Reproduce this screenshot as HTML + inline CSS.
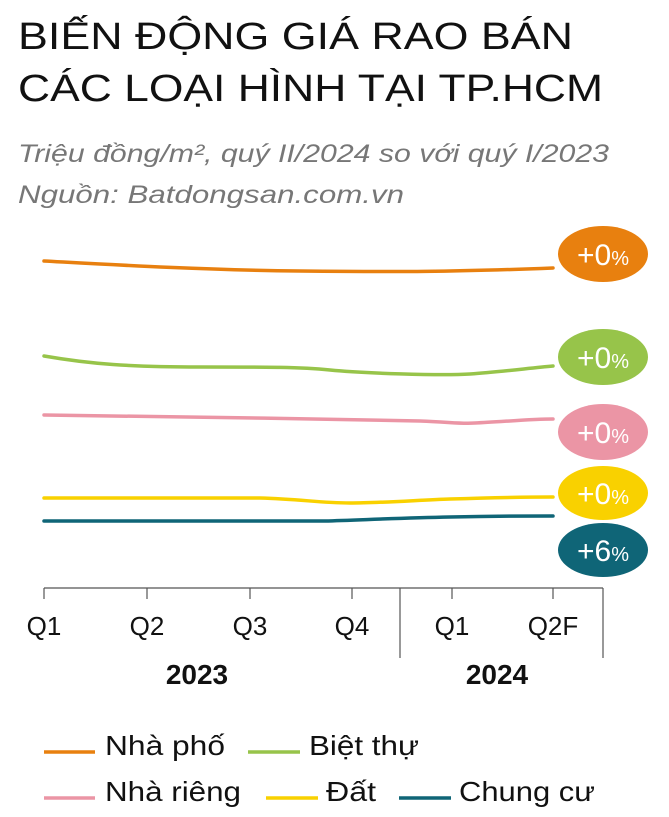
<!DOCTYPE html>
<html><head><meta charset="utf-8"><style>
html,body{margin:0;padding:0;background:#fff;}
svg{display:block;}
text{font-family:"Liberation Sans",sans-serif;}
</style></head><body>
<svg width="669" height="817" viewBox="0 0 669 817" xmlns="http://www.w3.org/2000/svg">
<text x="18" y="49" font-size="38" fill="#111" textLength="555" lengthAdjust="spacingAndGlyphs">BIẾN ĐỘNG GIÁ RAO BÁN</text>
<text x="18" y="101" font-size="38" fill="#111" textLength="585" lengthAdjust="spacingAndGlyphs">CÁC LOẠI HÌNH TẠI TP.HCM</text>
<text x="18" y="162" font-size="25" font-style="italic" fill="#777" textLength="591" lengthAdjust="spacingAndGlyphs">Triệu đồng/m², quý II/2024 so với quý I/2023</text>
<text x="18" y="203" font-size="25" font-style="italic" fill="#777" textLength="386" lengthAdjust="spacingAndGlyphs">Nguồn: Batdongsan.com.vn</text>

<g fill="none" stroke-width="3.5" stroke-linecap="round">
<path d="M44 261 C100 264,200 270,300 271 S450 272,553 268" stroke="#E8800F"/>
<path d="M44 356 C90 364,130 367,200 367 S300 367,330 370 S440 376,470 374 S530 368,553 366" stroke="#97C44A"/>
<path d="M44 415 C150 417,300 418,420 421 C450 422,460 424,475 423 C500 422,530 419,553 419" stroke="#EB95A5"/>
<path d="M44 498 L260 498 C300 499,320 503,350 503 S420 500,450 499 S530 497,553 497" stroke="#F9D100"/>
<path d="M44 521 L325 521 C360 520,400 518,450 517 S530 516,553 516" stroke="#0F6577"/>
</g>

<g fill="#fff" text-anchor="middle">
<ellipse cx="603" cy="254" rx="45" ry="28" fill="#E8800F"/>
<text x="603" y="265"><tspan font-size="30">+0</tspan><tspan font-size="20">%</tspan></text>
<ellipse cx="603" cy="357" rx="45" ry="28" fill="#97C44A"/>
<text x="603" y="368"><tspan font-size="30">+0</tspan><tspan font-size="20">%</tspan></text>
<ellipse cx="603" cy="432" rx="45" ry="28" fill="#EB95A5"/>
<text x="603" y="443"><tspan font-size="30">+0</tspan><tspan font-size="20">%</tspan></text>
<ellipse cx="603" cy="493" rx="45" ry="27" fill="#F9D100"/>
<text x="603" y="504"><tspan font-size="30">+0</tspan><tspan font-size="20">%</tspan></text>
<ellipse cx="603" cy="550" rx="45" ry="27" fill="#0F6577"/>
<text x="603" y="561"><tspan font-size="30">+6</tspan><tspan font-size="20">%</tspan></text>
</g>

<g stroke="#555" stroke-width="1.2">
<line x1="44" y1="588" x2="603" y2="588"/>
<line x1="44" y1="588" x2="44" y2="599"/>
<line x1="147" y1="588" x2="147" y2="599"/>
<line x1="250" y1="588" x2="250" y2="599"/>
<line x1="352" y1="588" x2="352" y2="599"/>
<line x1="452" y1="588" x2="452" y2="599"/>
<line x1="553" y1="588" x2="553" y2="599"/>
<line x1="400" y1="588" x2="400" y2="658"/>
<line x1="603" y1="588" x2="603" y2="658"/>
</g>
<g font-size="26" fill="#111" text-anchor="middle">
<text x="44" y="635">Q1</text>
<text x="147" y="635">Q2</text>
<text x="250" y="635">Q3</text>
<text x="352" y="635">Q4</text>
<text x="452" y="635">Q1</text>
<text x="553" y="635">Q2F</text>
<text x="197" y="684" font-weight="bold" font-size="28">2023</text>
<text x="497" y="684" font-weight="bold" font-size="28">2024</text>
</g>

<g stroke-width="3.5">
<line x1="44" y1="752" x2="95" y2="752" stroke="#E8800F"/>
<line x1="248" y1="752" x2="300" y2="752" stroke="#97C44A"/>
<line x1="44" y1="798" x2="95" y2="798" stroke="#EB95A5"/>
<line x1="266" y1="798" x2="318" y2="798" stroke="#F9D100"/>
<line x1="399" y1="798" x2="451" y2="798" stroke="#0F6577"/>
</g>
<g font-size="28" fill="#111">
<text x="105" y="755" textLength="120" lengthAdjust="spacingAndGlyphs">Nhà phố</text>
<text x="309" y="755" textLength="110" lengthAdjust="spacingAndGlyphs">Biệt thự</text>
<text x="105" y="801" textLength="136" lengthAdjust="spacingAndGlyphs">Nhà riêng</text>
<text x="326" y="801" textLength="50" lengthAdjust="spacingAndGlyphs">Đất</text>
<text x="459" y="801" textLength="136" lengthAdjust="spacingAndGlyphs">Chung cư</text>
</g>
</svg>
</body></html>
